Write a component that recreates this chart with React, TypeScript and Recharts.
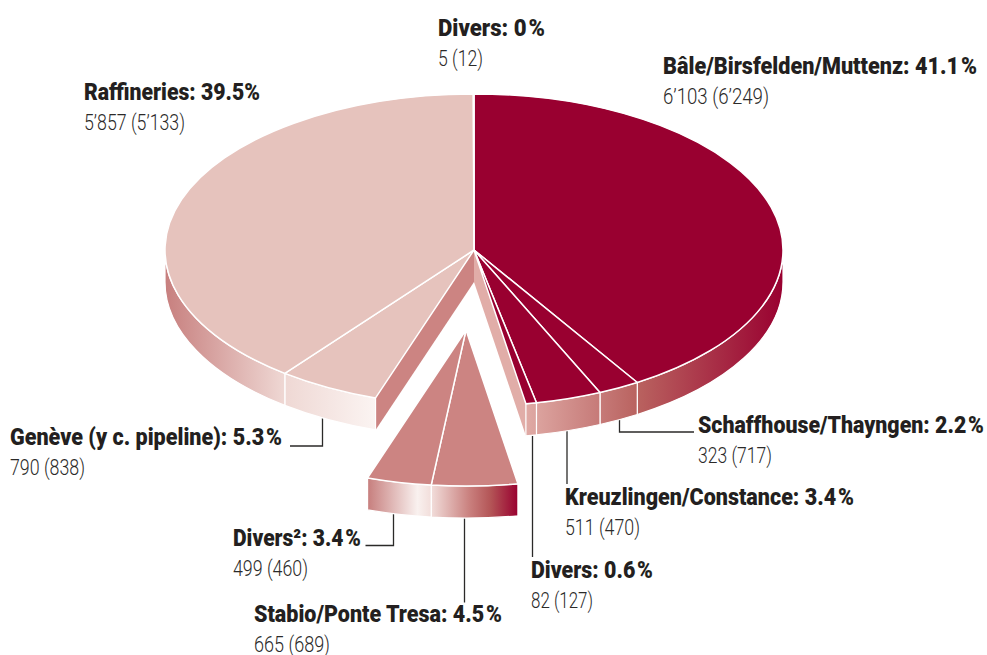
import React from 'react';
import { PieChart, Pie } from 'recharts';

const categories = [
  'Bâle/Birsfelden/Muttenz',
  'Schaffhouse/Thayngen',
  'Kreuzlingen/Constance',
  'Divers',
  'Stabio/Ponte Tresa',
  'Divers²',
  'Genève (y c. pipeline)',
  'Raffineries',
  'Divers',
];
const shares = ['41.1', '2.2', '3.4', '0.6', '4.5', '3.4', '5.3', '39.5', '0'];
const volumes = [6103, 323, 511, 82, 665, 499, 790, 5857, 5];
const volumeLabels = [
  '6’103 (6’249)',
  '323 (717)',
  '511 (470)',
  '82 (127)',
  '665 (689)',
  '499 (460)',
  '790 (838)',
  '5’857 (5’133)',
  '5 (12)',
];

const DARK = '#990030';
const MID = '#CC8482';
const LIGHT = '#E6C3BD';
const topColors = [DARK, DARK, DARK, DARK, MID, MID, LIGHT, LIGHT, LIGHT];
const exploded = [4, 5];

const CX = 474;
const CY = 250;
const RX = 309;
const SQUASH = 0.505;
const DEPTH = 32;
const OFFSET = { x: -8, y: 80 };

// x, baseline y, widths of the bold and the plain line
const labelBoxes = [
  [663, 74, 314, 106],
  [698, 433, 286, 74],
  [565, 505, 289, 75],
  [531, 578, 122, 62],
  [254, 622, 248, 76],
  [233, 546, 128, 75],
  [10, 445, 272, 75],
  [84, 100, 176, 101],
  [438, 36, 107, 45],
];

const leaders = [
  '290,446 322.5,446 322.5,418',
  '365.5,545.5 393.5,545.5 393.5,511',
  '464.5,516 464.5,602.5',
  '532.5,436 532.5,557',
  '567,431 567,484',
  '619.5,420 619.5,432 694,432',
];

const tableData = categories.map((name, i) => ({ name, value: volumes[i] }));

const FONT = 'Roboto, sans-serif';
// Roboto is wider than the condensed face of the original
const NARROW = 0.86;

function rimPoint(cx: number, cy: number, deg: number) {
  const a = (deg * Math.PI) / 180;
  return { x: cx + RX * Math.cos(a), y: cy - RX * SQUASH * Math.sin(a) };
}

function arc(cx: number, cy: number, fromDeg: number, toDeg: number) {
  const end = rimPoint(cx, cy, toDeg);
  const large = Math.abs(toDeg - fromDeg) > 180 ? 1 : 0;
  return `A${RX} ${RX * SQUASH} 0 ${large} 1 ${end.x} ${end.y}`;
}

function SliceShape(props: any) {
  const { index, startAngle, endAngle } = props;
  const isOut = exploded.includes(index);
  const cx = isOut ? CX + OFFSET.x : CX;
  const cy = isOut ? CY + OFFSET.y : CY;
  const start = rimPoint(cx, cy, startAngle);
  const end = rimPoint(cx, cy, endAngle);

  // the rim only shows on the front half, 0 to -180 in recharts angles
  const a0 = Math.min(startAngle, 0);
  const a1 = Math.max(endAngle, -180);
  const hasSide = a0 > a1;
  let side = '';
  if (hasSide) {
    const p0 = rimPoint(cx, cy, a0);
    const p1 = rimPoint(cx, cy, a1);
    side =
      `M${p0.x} ${p0.y}` +
      arc(cx, cy, a0, a1) +
      `L${p1.x} ${p1.y + DEPTH}` +
      `A${RX} ${RX * SQUASH} 0 0 0 ${p0.x} ${p0.y + DEPTH}Z`;
  }

  const gapAfter = !isOut && exploded.includes(index + 1);
  const gapBefore = !isOut && exploded.includes(index - 1);

  return (
    <g>
      {gapAfter && (
        <polygon
          points={`${CX},${CY} ${end.x},${end.y} ${end.x},${end.y + DEPTH} ${CX},${CY + DEPTH}`}
          fill="#E1ADA8"
        />
      )}
      {gapBefore && (
        <polygon
          points={`${CX},${CY} ${start.x},${start.y} ${start.x},${start.y + DEPTH} ${CX},${CY + DEPTH}`}
          fill={MID}
        />
      )}
      {hasSide && (
        <path
          d={side}
          fill={isOut ? 'url(#sideOut)' : 'url(#sideMain)'}
          stroke="#fff"
          strokeWidth={1.2}
        />
      )}
      <path
        d={`M${cx} ${cy}L${start.x} ${start.y}` + arc(cx, cy, startAngle, endAngle) + 'Z'}
        fill={topColors[index]}
        stroke="#fff"
        strokeWidth={1.5}
        strokeLinejoin="round"
      />
    </g>
  );
}

export default function App() {
  return (
    <div style={{ position: 'absolute', left: 0, top: 0, width: 987, height: 655 }}>
      <PieChart width={987} height={655} margin={{ top: 0, right: 0, bottom: 0, left: 0 }}>
        <defs>
          <linearGradient id="sideMain" gradientUnits="userSpaceOnUse" x1="165" y1="0" x2="783" y2="0">
            <stop offset="0" stopColor="#C77F7E" />
            <stop offset="0.194" stopColor="#EFD8D4" />
            <stop offset="0.341" stopColor="#FBF4F2" />
            <stop offset="0.586" stopColor="#DFA9A4" />
            <stop offset="0.704" stopColor="#C67A78" />
            <stop offset="0.765" stopColor="#B9625F" />
            <stop offset="1" stopColor="#990030" />
          </linearGradient>
          <linearGradient id="sideOut" gradientUnits="userSpaceOnUse" x1="368" y1="0" x2="518" y2="0">
            <stop offset="0" stopColor="#C77F7E" />
            <stop offset="0.33" stopColor="#F9F1EF" />
            <stop offset="0.42" stopColor="#F2DEDB" />
            <stop offset="0.68" stopColor="#C97F7D" />
            <stop offset="0.82" stopColor="#B35456" />
            <stop offset="1" stopColor="#990030" />
          </linearGradient>
        </defs>
        <Pie
          data={tableData}
          dataKey="value"
          nameKey="name"
          cx={CX}
          cy={CY}
          innerRadius={0}
          outerRadius={RX}
          startAngle={90}
          endAngle={-270}
          paddingAngle={0}
          stroke="none"
          labelLine={false}
          label={false}
          shape={SliceShape}
          isAnimationActive={false}
        />
        {leaders.map((points) => (
          <polyline key={points} points={points} fill="none" stroke="#2B2A29" strokeWidth={1.3} />
        ))}
        {categories.map((name, i) => {
          const [x, y, boldW, plainW] = labelBoxes[i];
          return (
            <g key={i} fontFamily={FONT}>
              <text
                transform={`translate(${x} ${y}) scale(${NARROW} 1)`}
                fontSize={23.5}
                fontWeight={900}
                fill="#231F20"
                textLength={boldW / NARROW}
                lengthAdjust="spacingAndGlyphs"
              >
                {`${name}: ${shares[i]}`}
                <tspan dx={i === 7 ? 0 : 2}>%</tspan>
              </text>
              <text
                x={x}
                y={y + 29.5}
                fontSize={22}
                fontWeight={300}
                fill="#2B2A29"
                textLength={plainW}
                lengthAdjust="spacingAndGlyphs"
              >
                {volumeLabels[i]}
              </text>
            </g>
          );
        })}
      </PieChart>
    </div>
  );
}
